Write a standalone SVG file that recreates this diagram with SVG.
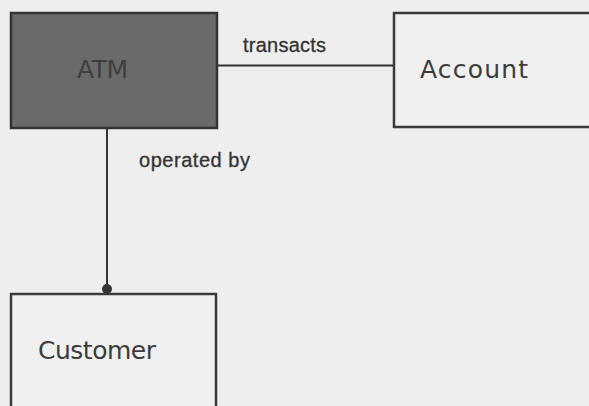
<svg xmlns="http://www.w3.org/2000/svg" width="589" height="406" viewBox="0 0 589 406">
<style>
.box{fill:#f0f0f0;stroke:#3a3a3a;stroke-width:2.5}
.dark{fill:#6a6a6a;stroke:#333;stroke-width:2.5}
.name{font-family:"DejaVu Sans","Liberation Sans",sans-serif;font-size:25px;fill:#3c3c3c}
.lbl{font-family:"Liberation Sans",Arial,sans-serif;font-size:20px;fill:#333;stroke:#333;stroke-width:0.3}
.conn{stroke:#333;stroke-width:2;fill:none}
</style>
<rect width="589" height="406" fill="#eeeeee"/>
<g id="connectors">
<line class="conn" x1="217" y1="65.5" x2="394" y2="65.5"/>
<line class="conn" x1="107" y1="128" x2="107" y2="294"/>
<circle cx="107" cy="289" r="5" fill="#333"/>
<text class="lbl" x="243" y="52" textLength="83">transacts</text>
<text class="lbl" x="139" y="167" textLength="111">operated by</text>
</g>
<g id="atm">
<rect class="dark" x="11" y="13" width="206" height="115"/>
<text class="name" x="77" y="78" textLength="51" style="fill:#3e3e3e">ATM</text>
</g>
<g id="account">
<rect class="box" x="394" y="13" width="210" height="114"/>
<text class="name" x="420" y="78" textLength="108">Account</text>
</g>
<g id="customer">
<rect class="box" x="11" y="294" width="205" height="130"/>
<text class="name" x="38" y="359" textLength="118">Customer</text>
</g>
</svg>
